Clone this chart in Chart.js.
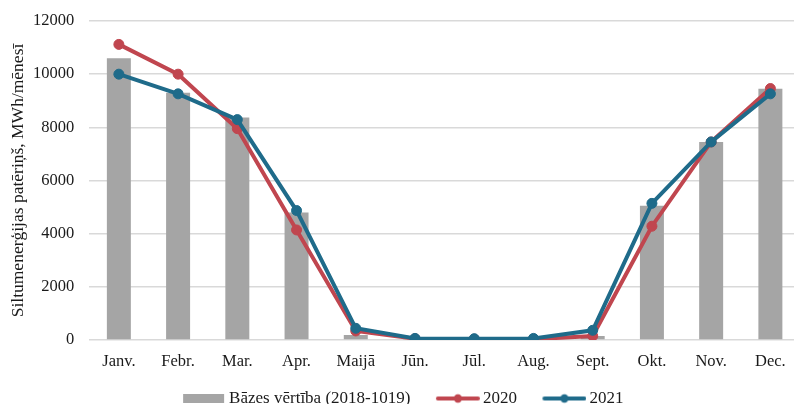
<!DOCTYPE html>
<html>
<head>
<meta charset="utf-8">
<script src="https://cdn.jsdelivr.net/npm/chart.js@4/dist/chart.umd.min.js"></script>
<style>
html,body{margin:0;padding:0;background:#fff;overflow:hidden;}
#wrap{width:794px;height:404px;overflow:hidden;position:relative;}
#c{position:absolute;left:-7px;top:0;}
</style>
</head>
<body>
<div id="wrap"><canvas id="c" width="813" height="404"></canvas></div>
<script>
const categories = ["Janv.","Febr.","Mar.","Apr.","Maijā","Jūn.","Jūl.","Aug.","Sept.","Okt.","Nov.","Dec."];
const baseValues = [10600, 9300, 8370, 4800, 190, 20, 10, 20, 150, 5050, 7450, 9450];
const values2020 = [11120, 10000, 7950, 4140, 340, 50, 30, 30, 150, 4280, 7450, 9460];
const values2021 = [10000, 9260, 8290, 4870, 440, 60, 50, 60, 365, 5140, 7450, 9260];
const seriesNames = ["Bāzes vērtība (2018-1019)", "2020", "2021"];
const yTicks = [0, 2000, 4000, 6000, 8000, 10000, 12000];
const yTitle = "Siltumenerģijas patēriņš, MWh/mēnesī";

const GRAY = '#a5a5a5', RED = '#c0464f', BLUE = '#1f6b8a';
const FONT = "'Liberation Serif', 'Times New Roman', serif";
const TXT = '#1a1a1a';

function lineImg(color){
  const c = document.createElement('canvas'); c.width = 62; c.height = 12;
  const x = c.getContext('2d');
  x.strokeStyle = color; x.lineWidth = 4; x.lineCap = 'round';
  x.beginPath(); x.moveTo(20,6); x.lineTo(60,6); x.stroke();
  x.fillStyle = color; x.beginPath(); x.arc(40,6,4.2,0,Math.PI*2); x.fill();
  return c;
}
function boxImg(color){
  const c = document.createElement('canvas'); c.width = 62; c.height = 9;
  const x = c.getContext('2d'); x.fillStyle = color; x.fillRect(19,0,41,9);
  return c;
}
const legendImgs = [boxImg(GRAY), lineImg(RED), lineImg(BLUE)];

new Chart(document.getElementById('c'), {
  data: {
    labels: categories,
    datasets: [
      { type:'bar', label: seriesNames[0], data: baseValues, backgroundColor: GRAY,
        categoryPercentage: 1.0, barPercentage: 0.405, order: 3 },
      { type:'line', label: seriesNames[1], data: values2020, borderColor: RED, backgroundColor: RED,
        borderWidth: 4, pointRadius: 5, pointBackgroundColor: RED, pointBorderColor: RED, pointBorderWidth: 1,
        tension: 0, order: 2 },
      { type:'line', label: seriesNames[2], data: values2021, borderColor: BLUE, backgroundColor: BLUE,
        borderWidth: 4, pointRadius: 5, pointBackgroundColor: BLUE, pointBorderColor: BLUE, pointBorderWidth: 1,
        tension: 0, order: 1 }
    ]
  },
  options: {
    responsive: false,
    animation: false,
    devicePixelRatio: 1,
    layout: { padding: { left: 0, right: 6, top: 21, bottom: -13 } },
    plugins: {
      tooltip: { enabled: false },
      legend: {
        position: 'bottom',
        labels: {
          usePointStyle: true,
          pointStyleWidth: 51,
          padding: 13,
          color: TXT,
          font: { family: FONT, size: 17 },
          generateLabels: (chart) => chart.data.datasets.map((ds, i) => ({
            text: ds.label, pointStyle: legendImgs[i], datasetIndex: i,
            fillStyle: 'transparent', strokeStyle: 'transparent', lineWidth: 0,
            fontColor: TXT, hidden: false
          }))
        }
      }
    },
    scales: {
      x: {
        grid: { display: false, drawTicks: false },
        border: { display: false },
        ticks: { color: TXT, font: { family: FONT, size: 16.5 }, padding: 12, maxRotation: 0 },
        afterFit: (axis) => { axis.height = 37; }
      },
      y: {
        min: 0, max: 12000,
        afterBuildTicks: (axis) => { axis.ticks = yTicks.map(v => ({ value: v })); },
        afterFit: (axis) => { axis.paddingTop = 0; axis.paddingBottom = 0; },
        grid: { color: '#d9d9d9', lineWidth: 1.5, drawTicks: false },
        border: { display: false },
        ticks: { color: TXT, font: { family: FONT, size: 16.5 }, padding: 15, callback: (v) => String(v) },
        title: { display: true, text: yTitle, color: TXT, font: { family: FONT, size: 17.5 }, padding: { top: 15, bottom: -11 } }
      }
    }
  }
});
</script>
</body>
</html>
